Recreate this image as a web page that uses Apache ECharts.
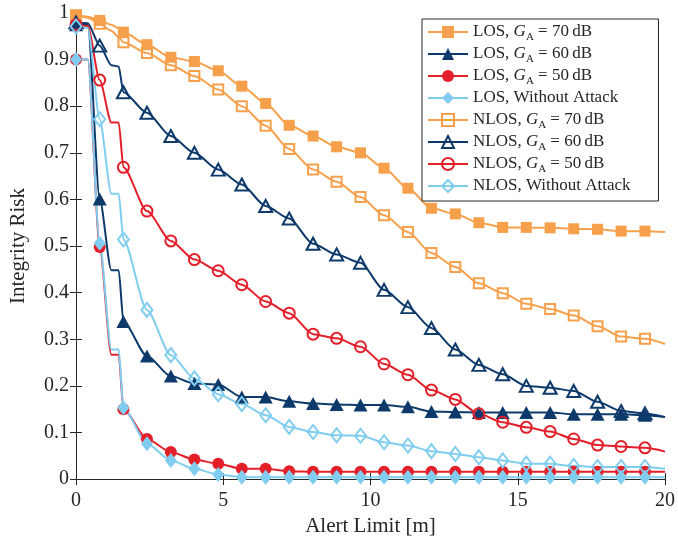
<!DOCTYPE html>
<html>
<head>
  <meta charset="utf-8">
  <title>Integrity Risk</title>
  <script src="https://cdn.jsdelivr.net/npm/echarts/dist/echarts.min.js"></script>
  <style>
    html, body { margin: 0; padding: 0; background: #fff; }
    #main { width: 678px; height: 542px; }
  </style>
</head>
<body>

<div id="main"></div>

<script>
  // alert limit [m]; points at 0.4, 1.2, 1.45 and 20 only shape the line (no marker)
  const alertLimit = [0, 0.4, 0.805, 1.2, 1.45, 1.61, 2.41, 3.22, 4.02, 4.83, 5.63, 6.44, 7.24, 8.05,
    8.85, 9.66, 10.46, 11.27, 12.07, 12.88, 13.68, 14.49, 15.29, 16.1, 16.9, 17.71, 18.51, 19.32, 20];
  const noMarker = [1, 3, 4, 28];

  const los70 = [0.995, 0.992, 0.984, 0.975, 0.967, 0.959, 0.932, 0.905, 0.896, 0.876, 0.843, 0.806, 0.759, 0.736,
    0.713, 0.700, 0.667, 0.624, 0.581, 0.569, 0.550, 0.540, 0.540, 0.539, 0.537, 0.536, 0.532, 0.532, 0.530];
  const los60 = [0.975, 0.975, 0.601, 0.448, 0.448, 0.338, 0.264, 0.221, 0.205, 0.203, 0.176, 0.176, 0.167, 0.162,
    0.160, 0.159, 0.159, 0.155, 0.145, 0.144, 0.143, 0.143, 0.143, 0.143, 0.139, 0.139, 0.139, 0.137, 0.133];
  const los50 = [0.900, 0.900, 0.498, 0.267, 0.267, 0.150, 0.086, 0.058, 0.042, 0.033, 0.022, 0.022, 0.017, 0.016,
    0.016, 0.016, 0.016, 0.016, 0.016, 0.016, 0.016, 0.016, 0.016, 0.016, 0.016, 0.016, 0.016, 0.016, 0.016];
  const losNoAttack = [0.900, 0.900, 0.506, 0.278, 0.278, 0.153, 0.076, 0.040, 0.022, 0.010, 0.004, 0.004, 0.004, 0.004,
    0.004, 0.004, 0.004, 0.004, 0.004, 0.004, 0.004, 0.004, 0.004, 0.004, 0.004, 0.004, 0.004, 0.004, 0.004];
  const nlos70 = [0.995, 0.990, 0.977, 0.962, 0.948, 0.937, 0.914, 0.888, 0.865, 0.836, 0.800, 0.758, 0.708, 0.664,
    0.638, 0.605, 0.566, 0.530, 0.485, 0.455, 0.420, 0.399, 0.376, 0.365, 0.351, 0.328, 0.306, 0.301, 0.290];
  const nlos60 = [0.980, 0.978, 0.930, 0.888, 0.885, 0.830, 0.786, 0.736, 0.700, 0.664, 0.632, 0.586, 0.559, 0.505,
    0.482, 0.464, 0.406, 0.369, 0.324, 0.278, 0.245, 0.225, 0.200, 0.196, 0.189, 0.166, 0.146, 0.141, 0.133];
  const nlos50 = [0.975, 0.972, 0.856, 0.765, 0.765, 0.669, 0.575, 0.511, 0.471, 0.447, 0.417, 0.381, 0.356, 0.311,
    0.302, 0.284, 0.247, 0.224, 0.191, 0.171, 0.140, 0.122, 0.111, 0.102, 0.086, 0.073, 0.070, 0.067, 0.059];
  const nlosNoAttack = [0.971, 0.968, 0.772, 0.612, 0.612, 0.514, 0.363, 0.266, 0.216, 0.182, 0.161, 0.137, 0.112, 0.101,
    0.094, 0.093, 0.079, 0.072, 0.060, 0.054, 0.047, 0.040, 0.033, 0.033, 0.028, 0.026, 0.026, 0.026, 0.022];

  const ORANGE = '#f7a04c';
  const NAVY = '#0d3a6b';
  const RED = '#e3202a';
  const LIGHTBLUE = '#80cdef';
  const INK = '#262626';
  const FONT = 'Liberation Serif';

  function makeSeries(name, values, color, symbol, size, hollow) {
    return {
      name: name,
      type: 'line',
      smooth: 0.25,
      smoothMonotone: 'x',
      showAllSymbol: true,
      symbol: symbol,
      symbolSize: size,
      lineStyle: { color: color, width: 2 },
      itemStyle: hollow
        ? { color: 'rgba(255,255,255,0)', borderColor: color, borderWidth: 2 }
        : { color: color, borderColor: color, borderWidth: 0 },
      emphasis: { disabled: true },
      data: alertLimit.map(function (x, i) {
        if (noMarker.indexOf(i) >= 0) {
          return { value: [x, values[i]], symbol: 'none' };
        }
        return [x, values[i]];
      })
    };
  }

  const series = [
    makeSeries('LOS, G_A = 70', los70, ORANGE, 'rect', 11, false),
    makeSeries('LOS, G_A = 60', los60, NAVY, 'triangle', [14, 13], false),
    makeSeries('LOS, G_A = 50', los50, RED, 'circle', 12, false),
    makeSeries('LOS, Without Attack', losNoAttack, LIGHTBLUE, 'diamond', [12, 15], false),
    makeSeries('NLOS, G_A = 70', nlos70, ORANGE, 'rect', 10, true),
    makeSeries('NLOS, G_A = 60', nlos60, NAVY, 'triangle', [13, 12], true),
    makeSeries('NLOS, G_A = 50', nlos50, RED, 'circle', 11, true),
    makeSeries('NLOS, Without Attack', nlosNoAttack, LIGHTBLUE, 'diamond', [11, 14], true)
  ];

  const axisLine = { show: true, lineStyle: { color: INK, width: 1 } };
  const tickIn = { show: true, inside: true, length: 6, lineStyle: { color: INK } };

  const myChart = echarts.init(document.getElementById('main'), null, { renderer: 'canvas' });

  const option = {
    animation: false,
    backgroundColor: '#fff',
    textStyle: { fontFamily: FONT, color: INK },
    grid: { left: 71, right: 11, top: 13, bottom: 60 },
    legend: {
      orient: 'vertical',
      left: 422,
      top: 19,
      itemWidth: 40,
      itemHeight: 15,
      itemGap: 0,
      padding: [2, 28, 4, 5],
      backgroundColor: '#fff',
      borderColor: INK,
      borderWidth: 1,
      borderRadius: 0,
      formatter: function (name) {
        if (name.indexOf('G_A') >= 0) {
          const parts = name.split('G_A = ');
          return parts[0] + '{i|G}{sub|A}{t| = ' + parts[1] + '\u2009dB}';
        }
        return '{t|' + name + '}';
      },
      textStyle: {
        fontFamily: FONT,
        fontSize: 17,
        color: INK,
        lineHeight: 22,
        rich: {
          t: { fontFamily: FONT, fontSize: 17, color: INK, lineHeight: 22 },
          i: { fontFamily: FONT, fontSize: 17, fontStyle: 'italic', color: INK, lineHeight: 22 },
          sub: { fontFamily: FONT, fontSize: 11, color: INK, lineHeight: 14, verticalAlign: 'bottom' }
        }
      },
      data: series.map(function (s) { return s.name; })
    },
    xAxis: [
      {
        type: 'value',
        min: 0,
        max: 20,
        interval: 5,
        name: 'Alert Limit [m]',
        nameLocation: 'middle',
        nameGap: 33,
        nameTextStyle: { fontFamily: FONT, fontSize: 21, color: INK },
        axisLine: axisLine,
        axisTick: tickIn,
        axisLabel: { fontFamily: FONT, fontSize: 20, color: INK, margin: 12 },
        splitLine: { show: false }
      },
      {
        type: 'value',
        position: 'top',
        min: 0,
        max: 20,
        interval: 5,
        axisLine: axisLine,
        axisTick: tickIn,
        axisLabel: { show: false },
        splitLine: { show: false }
      }
    ],
    yAxis: [
      {
        type: 'value',
        min: 0,
        max: 1,
        interval: 0.1,
        name: 'Integrity Risk',
        nameLocation: 'middle',
        nameGap: 47,
        nameTextStyle: { fontFamily: FONT, fontSize: 21, color: INK },
        axisLine: axisLine,
        axisTick: tickIn,
        axisLabel: { fontFamily: FONT, fontSize: 20, color: INK, margin: 7 },
        splitLine: { show: false }
      },
      {
        type: 'value',
        position: 'right',
        min: 0,
        max: 1,
        interval: 0.1,
        axisLine: axisLine,
        axisTick: tickIn,
        axisLabel: { show: false },
        splitLine: { show: false }
      }
    ],
    series: series
  };

  myChart.setOption(option);
</script>
</body>
</html>
